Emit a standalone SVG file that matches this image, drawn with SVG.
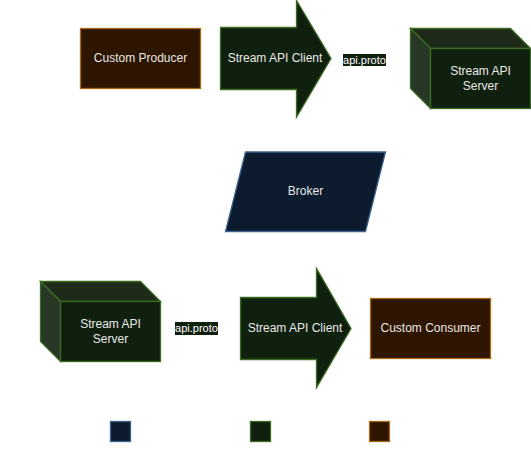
<svg xmlns="http://www.w3.org/2000/svg" width="531" height="462" viewBox="0 0 531 462">
<style>
.brown{fill:#2e1500;stroke:#a86b14;stroke-width:1.3}
.green{fill:#10200f;stroke:#3c6a20;stroke-width:1.3}
.blue{fill:#0c1b2e;stroke:#3f628f;stroke-width:1.3}
.top{fill:#1e2b1b;stroke:#3c6a20;stroke-width:1.3}
.side{fill:#283827;stroke:#3c6a20;stroke-width:1.3}
.t{font-family:"Liberation Sans",Arial,sans-serif;font-size:12px;fill:#e8e8e8;text-anchor:middle}
.lbl{font-family:"Liberation Sans",Arial,sans-serif;font-size:11px;fill:#ffffff;text-anchor:middle}
.edge{stroke:#ffffff;stroke-width:1;fill:none}
</style>
<rect width="531" height="462" fill="#ffffff"/>
<g id="connectors">
<line class="edge" x1="200" y1="58" x2="220" y2="58"/>
<line class="edge" x1="331" y1="58" x2="410" y2="68"/>
<line class="edge" x1="160" y1="328" x2="240" y2="328"/>
<line class="edge" x1="351" y1="328" x2="370" y2="328"/>
<rect x="343" y="54" width="43" height="12" fill="#10200f"/>
<text class="lbl" x="364.5" y="64">api.proto</text>
<rect x="175" y="322" width="43" height="13" fill="#10200f"/>
<text class="lbl" x="196.5" y="332">api.proto</text>
</g>
<g id="custom-producer">
<rect class="brown" x="80.5" y="28.5" width="120" height="60"/>
<text class="t" x="140.5" y="62">Custom Producer</text>
</g>
<g id="client-top">
<polygon class="green" points="220.5,27.5 296.5,27.5 296.5,0.5 331,58.5 296.5,117 296.5,89.5 220.5,89.5"/>
<text class="t" x="275" y="62">Stream API Client</text>
</g>
<g id="server-top">
<polygon class="top" points="410.5,28.5 510.5,28.5 530.5,48.5 430.5,48.5"/>
<polygon class="side" points="410.5,28.5 430.5,48.5 430.5,108.5 410.5,88.5"/>
<rect class="green" x="430.5" y="48.5" width="100" height="60"/>
<text class="t" x="480.5" y="75">Stream API</text>
<text class="t" x="480.5" y="90">Server</text>
</g>
<g id="broker">
<polygon class="blue" points="245.5,152 385.5,152 365.5,231.5 225.5,231.5"/>
<text class="t" x="305.5" y="195">Broker</text>
</g>
<g id="server-bottom">
<polygon class="top" points="40.5,281.5 140.5,281.5 160.5,301.5 60.5,301.5"/>
<polygon class="side" points="40.5,281.5 60.5,301.5 60.5,361.5 40.5,341.5"/>
<rect class="green" x="60.5" y="301.5" width="100" height="60"/>
<text class="t" x="110.5" y="328">Stream API</text>
<text class="t" x="110.5" y="343">Server</text>
</g>
<g id="client-bottom">
<polygon class="green" points="240.5,297.5 316.5,297.5 316.5,268.5 351,328.5 316.5,387.5 316.5,359.5 240.5,359.5"/>
<text class="t" x="295" y="332">Stream API Client</text>
</g>
<g id="custom-consumer">
<rect class="brown" x="370.5" y="298.5" width="120" height="60"/>
<text class="t" x="430.5" y="332">Custom Consumer</text>
</g>
<g id="legend">
<rect class="blue" x="110.5" y="421.5" width="20" height="20"/>
<rect class="green" x="250.5" y="421.5" width="20" height="20"/>
<rect class="brown" x="369.5" y="421.5" width="20" height="20"/>
</g>
</svg>
